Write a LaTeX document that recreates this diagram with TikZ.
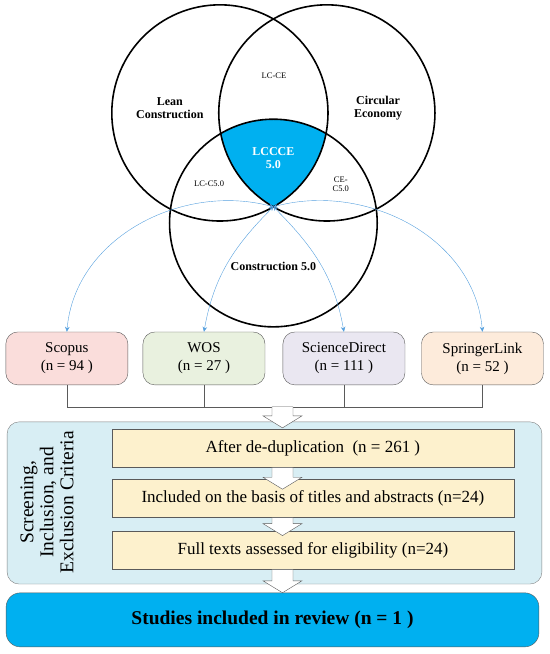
\documentclass[tikz,border=0pt]{standalone}
\usepackage{fontspec}
\setmainfont{Liberation Serif}
\usetikzlibrary{arrows.meta,positioning,calc}
\definecolor{vennblue}{RGB}{0,176,240}
\definecolor{arcblue}{RGB}{86,160,222}
\definecolor{boxline}{RGB}{90,90,90}
\definecolor{cScopus}{RGB}{250,221,219}
\definecolor{cWos}{RGB}{233,241,223}
\definecolor{cSd}{RGB}{234,231,241}
\definecolor{cSpr}{RGB}{253,235,219}
\definecolor{panelblue}{RGB}{216,238,244}
\definecolor{stepyellow}{RGB}{253,241,205}
% hollow down arrow: #1 start point, #2 length (cm)
\newcommand{\fatdown}[2]{%
  \draw[draw=boxline, fill=white] (#1) ++(-0.37,0) -- ++(0,-#2+0.42) -- ++(-0.315,0)
    -- ++(0.685,-0.42) -- ++(0.685,0.42) -- ++(-0.315,0) -- ++(0,#2-0.42) -- cycle;}

\begin{document}
\begin{tikzpicture}[
  venn/.style={draw, line width=1.6pt},
  setlbl/.style={font=\fontsize{12}{13.5}\selectfont\bfseries, align=center},
  zonelbl/.style={font=\fontsize{8.5}{9.5}\selectfont, align=center},
  db/.style={draw=boxline, rounded corners=0.42cm, minimum width=4.29cm, minimum height=1.86cm,
    align=center, font=\fontsize{15}{18}\selectfont},
  feed/.style={{Stealth[length=4pt,width=4pt]}-{Stealth[length=5pt,width=4.5pt]}, arcblue, thin},
  bus/.style={draw=boxline, thin},
  stepbox/.style={draw=boxline, fill=stepyellow, minimum width=14.13cm, minimum height=1.34cm,
    font=\fontsize{17}{20}\selectfont},
]
\useasboundingbox (0,0) rectangle (19.33,-22.99);

% venn part
\coordinate (cL) at (7.73,-3.97);
\coordinate (cR) at (11.49,-3.97);
\coordinate (cB) at (9.61,-7.84);
\coordinate (V) at (9.61,-7.27);
\begin{scope}
  \clip (cL) circle (3.80);
  \clip (cR) circle (3.80);
  \fill[vennblue] (cB) circle (3.65);
\end{scope}
\draw[venn] (cL) circle (3.80);
\draw[venn] (cR) circle (3.80);
\draw[venn] (cB) circle (3.65);

\node[setlbl] (lean) at (5.97,-3.80) {Lean\\Construction};
\node[setlbl] (circ) at (13.29,-3.80) {Circular\\Economy};
\node[setlbl] (c50) at (9.61,-9.38) {Construction 5.0};
\node[setlbl, text=white] (core) at (9.61,-5.55) {LCCCE\\5.0};
\node[zonelbl] (lcce) at (9.63,-2.67) {LC-CE};
\node[zonelbl] (lcc5) at (7.35,-6.47) {LC-C5.0};
\node[zonelbl] (cec5) at (11.98,-6.47) {CE-\\C5.0};

% databases
\node[db, fill=cScopus] (scopus) at (2.35,-12.60) {Scopus\\(n = 94 )};
\node[db, fill=cWos] (wos) at (7.17,-12.60) {WOS\\(n = 27 )};
\node[db, fill=cSd] (sd) at (12.09,-12.60) {ScienceDirect\\(n = 111 )};
\node[db, fill=cSpr] (spr) at (16.96,-12.60) {SpringerLink\\(n = 52 )};

\draw[feed] (V) to[out=165,in=85] (scopus.north);
\draw[feed] (V) to[out=225,in=80] (wos.north);
\draw[feed] (V) to[out=-45,in=100] (sd.north);
\draw[feed] (V) to[out=15,in=95] (spr.north);

\coordinate (bus) at (0,-14.30);
\coordinate (ax) at (9.93,0);
\draw[bus] (scopus.south) -- (scopus.south |- bus) -- (spr.south |- bus) -- (spr.south);
\draw[bus] (wos.south) -- (wos.south |- bus);
\draw[bus] (sd.south) -- (sd.south |- bus);

% screening panel
\draw[draw=gray, fill=panelblue, rounded corners=0.42cm] (0.25,-14.83) rectangle (19.05,-20.53);
\node[font=\fontsize{19.5}{20}\selectfont, align=center, rotate=90] (crit) at (1.65,-17.66)
  {Screening,\\Inclusion, and\\Exclusion Criteria};
\node[stepbox] (d1) at (11.00,-15.75) {After de-duplication~ (n = 261 )};
\node[stepbox] (d2) at (11.00,-17.52) {Included on the basis of titles and abstracts (n=24)};
\node[stepbox] (d3) at (11.00,-19.35) {Full texts assessed for eligibility (n=24)};

\node[draw=boxline, fill=vennblue, rounded corners=0.5cm, minimum width=18.73cm, minimum height=1.90cm,
  font=\fontsize{19.5}{22}\selectfont\bfseries] (final) at (9.58,-21.79) {Studies included in review (n = 1 )};

\fatdown{ax |- bus}{0.74}
\fatdown{ax |- d1.south}{0.77}
\fatdown{ax |- d2.south}{0.63}
\fatdown{ax |- d3.south}{0.81}
\end{tikzpicture}
\end{document}
